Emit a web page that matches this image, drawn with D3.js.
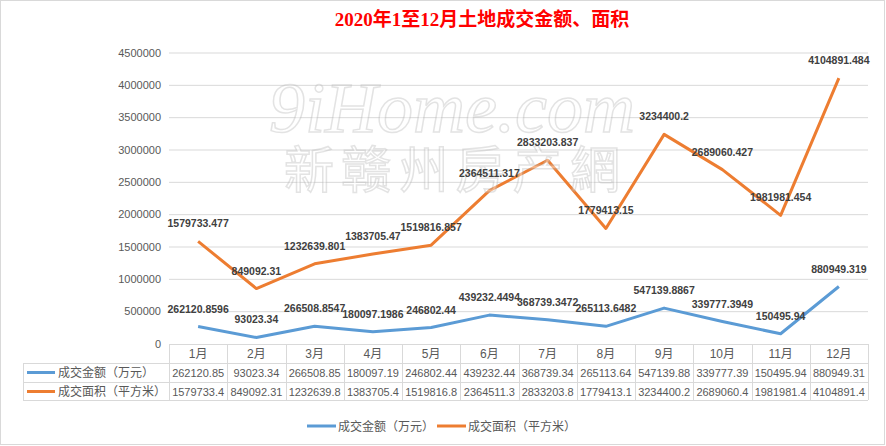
<!DOCTYPE html>
<html>
<head>
<meta charset="utf-8">
<script src="https://cdn.jsdelivr.net/npm/d3@7"></script>
<style>
  body { margin: 0; background: #fff; }
  svg { display: block; }
</style>
</head>
<body>
<svg id="chart" width="886" height="446"></svg>
<script>
const title = '2020年1至12月土地成交金额、面积'
const months = ['1月', '2月', '3月', '4月', '5月', '6月', '7月', '8月', '9月', '10月', '11月', '12月']
const seriesNames = ['成交金额（万元）', '成交面积（平方米）']
const amount = [262120.8596, 93023.34, 266508.8547, 180097.1986, 246802.44, 439232.4494,
  368739.3472, 265113.6482, 547139.8867, 339777.3949, 150495.94, 880949.319]
const area = [1579733.477, 849092.31, 1232639.801, 1383705.47, 1519816.857, 2364511.317,
  2833203.837, 1779413.15, 3234400.2, 2689060.427, 1981981.454, 4104891.484]
const yTicks = [0, 500000, 1000000, 1500000, 2000000, 2500000, 3000000, 3500000, 4000000, 4500000]

const COLORS = ['#5B9BD5', '#ED7D31']
const TEXT_COLOR = '#595959'
const LABEL_COLOR = '#404040'
const GRID_COLOR = '#d9d9d9'
const FONT = '"Liberation Sans", "Noto Sans CJK SC", sans-serif'

const svg = d3.select('#chart')
const plotLeft = 169, plotRight = 868
const plotTop = 52.5, plotBottom = 343.5

// outer frame
svg.append('rect')
  .attr('x', 0.5).attr('y', 0.5)
  .attr('width', 884).attr('height', 444)
  .attr('fill', '#fff')
  .attr('stroke', GRID_COLOR)

// title
svg.append('text')
  .attr('x', 482).attr('y', 26)
  .attr('text-anchor', 'middle')
  .style('font-family', '"Liberation Serif", "Noto Sans CJK SC", serif')
  .style('font-weight', 'bold')
  .style('font-size', '19px')
  .style('fill', '#FF0000')
  .text(title)

const x = d3.scaleBand().domain(months).range([plotLeft, plotRight])
const y = d3.scaleLinear().domain([0, 4500000]).range([plotBottom, plotTop])

// y axis + gridlines
const yAxis = svg.append('g')
  .attr('transform', `translate(${plotLeft},0)`)
  .call(d3.axisLeft(y).tickValues(yTicks).tickSize(-(plotRight - plotLeft)).tickPadding(8).tickFormat(d3.format('d')))
yAxis.select('.domain').remove()
yAxis.selectAll('.tick line')
  .attr('stroke', GRID_COLOR)
  .attr('display', d => d === 0 ? 'none' : null)
yAxis.selectAll('.tick text')
  .style('font-family', FONT)
  .style('font-size', '11px')
  .style('fill', TEXT_COLOR)

// lines
const line = d3.line()
  .x((d, i) => x(months[i]) + x.bandwidth() / 2)
  .y(d => y(d))

;[amount, area].forEach((values, k) => {
  svg.append('path')
    .datum(values)
    .attr('d', line)
    .attr('fill', 'none')
    .attr('stroke', COLORS[k])
    .attr('stroke-width', 3)
    .attr('stroke-linejoin', 'round')
})

// watermark (semi transparent, sits over the lines)
let wm = svg.append('g').attr('opacity', 0.4)
wm.append('text')
  .attr('x', 452).attr('y', 132)
  .attr('text-anchor', 'middle')
  .style('font-family', '"Liberation Serif", serif')
  .style('font-style', 'italic')
  .style('font-size', '72px')
  .style('fill', '#fff')
  .style('stroke', '#bbb')
  .style('stroke-width', 1.5)
  .text('9iHome.com')
wm.append('text')
  .attr('x', 452).attr('y', 188)
  .attr('text-anchor', 'middle')
  .attr('textLength', 336)
  .style('font-family', '"Noto Sans CJK TC", sans-serif')
  .style('font-size', '50px')
  .style('fill', '#fff')
  .style('stroke', '#bbb')
  .style('stroke-width', 1.5)
  .text('新赣州房产網')

// data labels
;[amount, area].forEach(values => {
  svg.append('g').selectAll('text')
    .data(values)
    .join('text')
    .attr('x', (d, i) => x(months[i]) + x.bandwidth() / 2)
    .attr('y', d => y(d) - 14)
    .attr('text-anchor', 'middle')
    .style('font-family', FONT)
    .style('font-weight', 'bold')
    .style('font-size', '10.5px')
    .style('fill', LABEL_COLOR)
    .text(d => String(d))
})

// data table
const tableLeft = 23
const rowY = [344, 363, 382, 400]
const table = svg.append('g')
table.append('line')
  .attr('x1', plotLeft).attr('x2', plotRight)
  .attr('y1', rowY[0] + 0.5).attr('y2', rowY[0] + 0.5)
  .attr('stroke', GRID_COLOR)
rowY.slice(1).forEach(ry => {
  table.append('line')
    .attr('x1', tableLeft).attr('x2', plotRight)
    .attr('y1', ry + 0.5).attr('y2', ry + 0.5)
    .attr('stroke', GRID_COLOR)
})
table.append('line')
  .attr('x1', tableLeft + 0.5).attr('x2', tableLeft + 0.5)
  .attr('y1', rowY[1]).attr('y2', rowY[3])
  .attr('stroke', GRID_COLOR)
months.forEach(m => {
  let x0 = Math.round(x(m)) + 0.5
  table.append('line')
    .attr('x1', x0).attr('x2', x0)
    .attr('y1', rowY[0]).attr('y2', rowY[3])
    .attr('stroke', GRID_COLOR)
})
table.append('line')
  .attr('x1', plotRight + 0.5).attr('x2', plotRight + 0.5)
  .attr('y1', rowY[0]).attr('y2', rowY[3])
  .attr('stroke', GRID_COLOR)

const cellFont = '"Noto Sans CJK SC", "Liberation Sans", sans-serif'
const numFont = '"Liberation Sans", "Noto Sans CJK SC", sans-serif'
table.selectAll('text.head')
  .data(months)
  .join('text')
  .attr('class', 'head')
  .attr('x', d => x(d) + x.bandwidth() / 2)
  .attr('y', rowY[0] + 14)
  .attr('text-anchor', 'middle')
  .style('font-family', numFont)
  .style('font-size', '12px')
  .style('fill', TEXT_COLOR)
  .text(d => d)

;[amount, area].forEach((values, k) => {
  let ry = rowY[k + 1]
  table.append('line')
    .attr('x1', 27).attr('x2', 55)
    .attr('y1', ry + 9.5).attr('y2', ry + 9.5)
    .attr('stroke', COLORS[k])
    .attr('stroke-width', 3)
  table.append('text')
    .attr('x', 58).attr('y', ry + 14)
    .style('font-family', cellFont)
    .style('font-size', '12px')
    .style('fill', TEXT_COLOR)
    .text(seriesNames[k])
  table.append('g').selectAll('text')
    .data(values)
    .join('text')
    .attr('x', (d, i) => x(months[i]) + x.bandwidth() / 2)
    .attr('y', ry + 14)
    .attr('text-anchor', 'middle')
    .style('font-family', numFont)
    .style('font-size', '11px')
    .style('fill', TEXT_COLOR)
    .text(d => String(d).slice(0, 9))
})

// legend
const legendX = [307, 437]
seriesNames.forEach((name, k) => {
  let lg = svg.append('g').attr('transform', `translate(${legendX[k]},426)`)
  lg.append('line')
    .attr('x1', 0).attr('x2', 29)
    .attr('stroke', COLORS[k])
    .attr('stroke-width', 3)
  lg.append('text')
    .attr('x', 31).attr('y', 5)
    .style('font-family', cellFont)
    .style('font-size', '12px')
    .style('fill', TEXT_COLOR)
    .text(name)
})
</script>
</body>
</html>
